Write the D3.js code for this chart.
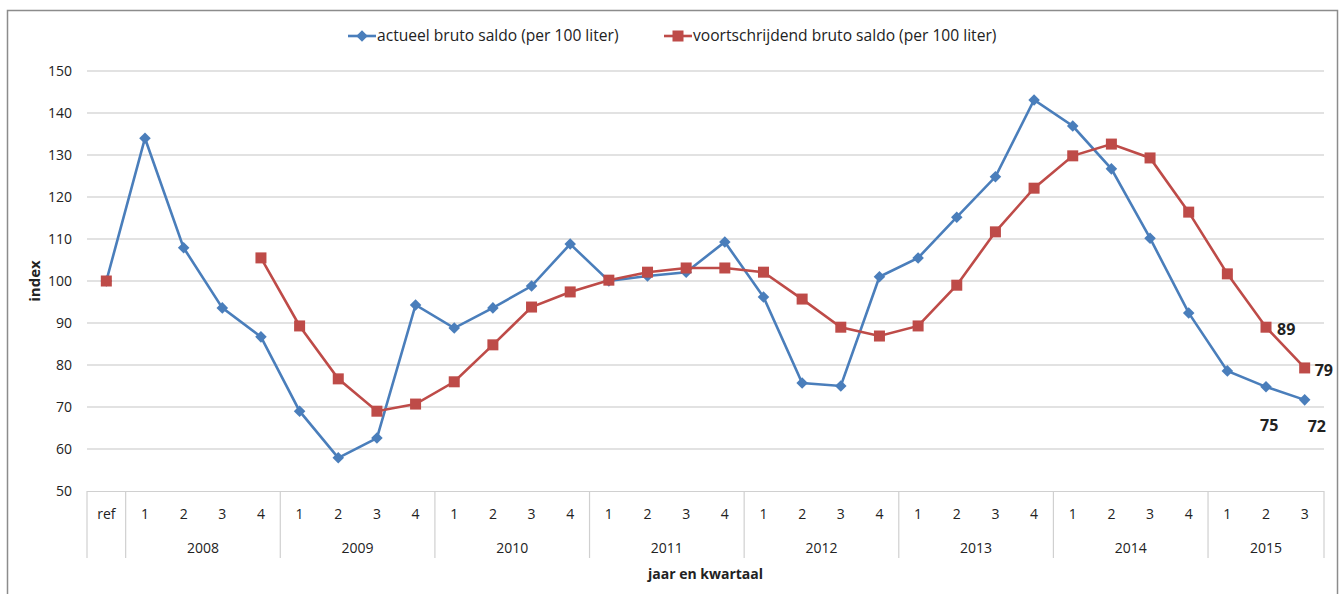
<!DOCTYPE html>
<html><head><meta charset="utf-8">
<script src="https://cdn.jsdelivr.net/npm/d3@7"></script>
<style>body{margin:0;background:#fff}svg{display:block}text{font-family:"Open Sans","Noto Sans",sans-serif;fill:#222}</style>
</head><body><svg id="c" width="1342" height="594"></svg>
<script>
const categories = ["ref",
 "2008-1","2008-2","2008-3","2008-4",
 "2009-1","2009-2","2009-3","2009-4",
 "2010-1","2010-2","2010-3","2010-4",
 "2011-1","2011-2","2011-3","2011-4",
 "2012-1","2012-2","2012-3","2012-4",
 "2013-1","2013-2","2013-3","2013-4",
 "2014-1","2014-2","2014-3","2014-4",
 "2015-1","2015-2","2015-3"];
const quarterLabels = ["ref","1","2","3","4","1","2","3","4","1","2","3","4","1","2","3","4","1","2","3","4","1","2","3","4","1","2","3","4","1","2","3"];
const years = [{label:"2008",from:1,to:4},{label:"2009",from:5,to:8},{label:"2010",from:9,to:12},{label:"2011",from:13,to:16},{label:"2012",from:17,to:20},{label:"2013",from:21,to:24},{label:"2014",from:25,to:28},{label:"2015",from:29,to:31}];
const actueel = [100,134.0,107.9,93.6,86.7,69.0,57.9,62.6,94.3,88.8,93.6,98.8,108.8,100.0,101.2,102.1,109.3,96.2,75.7,75.0,101.0,105.5,115.2,124.8,143.1,136.9,126.7,110.2,92.4,78.6,74.8,71.7];
const voortschrijdend = [100,null,null,null,105.5,89.3,76.7,69.0,70.7,76.0,84.8,93.8,97.4,100.2,102.1,103.1,103.1,102.1,95.7,89.0,86.9,89.3,99.0,111.7,122.1,129.8,132.6,129.3,116.4,101.7,89.0,79.3];
const yTicks = [50,60,70,80,90,100,110,120,130,140,150];
const seriesNames = ["actueel bruto saldo (per 100 liter)","voortschrijdend bruto saldo (per 100 liter)"];
const endLabels = [{series:1,i:30,text:"89",dx:11,dy:2},{series:1,i:31,text:"79",dx:10,dy:2},{series:0,i:30,text:"75",dx:-6,dy:39},{series:0,i:31,text:"72",dx:3,dy:27}];

const blue="#4A7EBB", red="#BE4B48", grid="#D9D9D9";
const svg=d3.select("#c");
const L=87,R=1324,T=71,B=491;
const x=d3.scaleBand().domain(d3.range(categories.length)).range([L,R]);
const y=d3.scaleLinear().domain([50,150]).range([B,T]);
const cx=i=>x(i)+x.bandwidth()/2;

// frame
svg.append("rect").attr("x",7.5).attr("y",10.5).attr("width",1330).attr("height",600).attr("fill","none").attr("stroke","#8c8c8c").attr("stroke-width",1.5);

// grid
svg.append("g").selectAll("line").data(yTicks.slice(1)).join("line")
 .attr("x1",L).attr("x2",R).attr("y1",d=>y(d)).attr("y2",d=>y(d)).attr("stroke",grid).attr("stroke-width",1.5);
// y labels
svg.append("g").selectAll("text").data(yTicks).join("text")
 .attr("x",72).attr("y",d=>y(d)).attr("dy","0.35em").attr("text-anchor","end").attr("font-size",14).text(d=>d);
svg.append("text").attr("transform",`translate(40,${y(100)}) rotate(-90)`).attr("text-anchor","middle").attr("font-size",15).attr("font-weight","bold").text("index");

// x axis table
const ax=svg.append("g").attr("stroke","#D0D0D0").attr("stroke-width",1.2);
ax.append("line").attr("x1",L).attr("x2",R).attr("y1",B+0.5).attr("y2",B+0.5);
const sepIdx=[0,1].concat(years.map(d=>d.to+1));
sepIdx.forEach(i=>{const xx=i<categories.length?x(i):R;ax.append("line").attr("x1",xx).attr("x2",xx).attr("y1",B).attr("y2",558);});
svg.append("g").selectAll("text").data(quarterLabels).join("text")
 .attr("x",(d,i)=>cx(i)).attr("y",514).attr("dy","0.35em").attr("text-anchor","middle").attr("font-size",14).text(d=>d);
svg.append("g").selectAll("text").data(years).join("text")
 .attr("x",d=>(x(d.from)+x(d.to)+x.bandwidth())/2).attr("y",548).attr("dy","0.35em").attr("text-anchor","middle").attr("font-size",14).text(d=>d.label);
svg.append("text").attr("x",(L+R)/2).attr("y",574).attr("dy","0.35em").attr("text-anchor","middle").attr("font-size",14).attr("font-weight","bold").text("jaar en kwartaal");

// lines
const line=d3.line().defined(d=>d!=null).x((d,i)=>cx(i)).y(d=>y(d));
svg.append("path").attr("d",line(actueel)).attr("fill","none").attr("stroke",blue).attr("stroke-width",2.6);
svg.append("path").attr("d",line(voortschrijdend)).attr("fill","none").attr("stroke",red).attr("stroke-width",2.6);
const diamond=d3.symbol().type(d3.symbolDiamond2).size(85);
svg.append("g").selectAll("path").data(actueel.map((v,i)=>({v,i}))).join("path")
 .attr("d",diamond).attr("transform",d=>`translate(${cx(d.i)},${y(d.v)})`).attr("fill",blue);
svg.append("g").selectAll("rect").data(voortschrijdend.map((v,i)=>({v,i})).filter(d=>d.v!=null)).join("rect")
 .attr("x",d=>cx(d.i)-5.5).attr("y",d=>y(d.v)-5.5).attr("width",11).attr("height",11).attr("fill",red);

// end labels
const ser=[actueel,voortschrijdend];
svg.append("g").selectAll("text").data(endLabels).join("text")
 .attr("x",d=>cx(d.i)+d.dx).attr("y",d=>y(ser[d.series][d.i])+d.dy).attr("dy","0.35em")
 .attr("font-size",16).attr("font-weight","bold").text(d=>d.text);

// legend
const lg=svg.append("g");
lg.append("line").attr("x1",348).attr("x2",376).attr("y1",36).attr("y2",36).attr("stroke",blue).attr("stroke-width",2.6);
lg.append("path").attr("d",diamond).attr("transform","translate(362,36)").attr("fill",blue);
lg.append("text").attr("x",377).attr("y",36).attr("dy","0.35em").attr("font-size",15.6).text(seriesNames[0]);
lg.append("line").attr("x1",664).attr("x2",692).attr("y1",36).attr("y2",36).attr("stroke",red).attr("stroke-width",2.6);
lg.append("rect").attr("x",672.5).attr("y",30.5).attr("width",11).attr("height",11).attr("fill",red);
lg.append("text").attr("x",693).attr("y",36).attr("dy","0.35em").attr("font-size",15.6).text(seriesNames[1]);
</script></body></html>
